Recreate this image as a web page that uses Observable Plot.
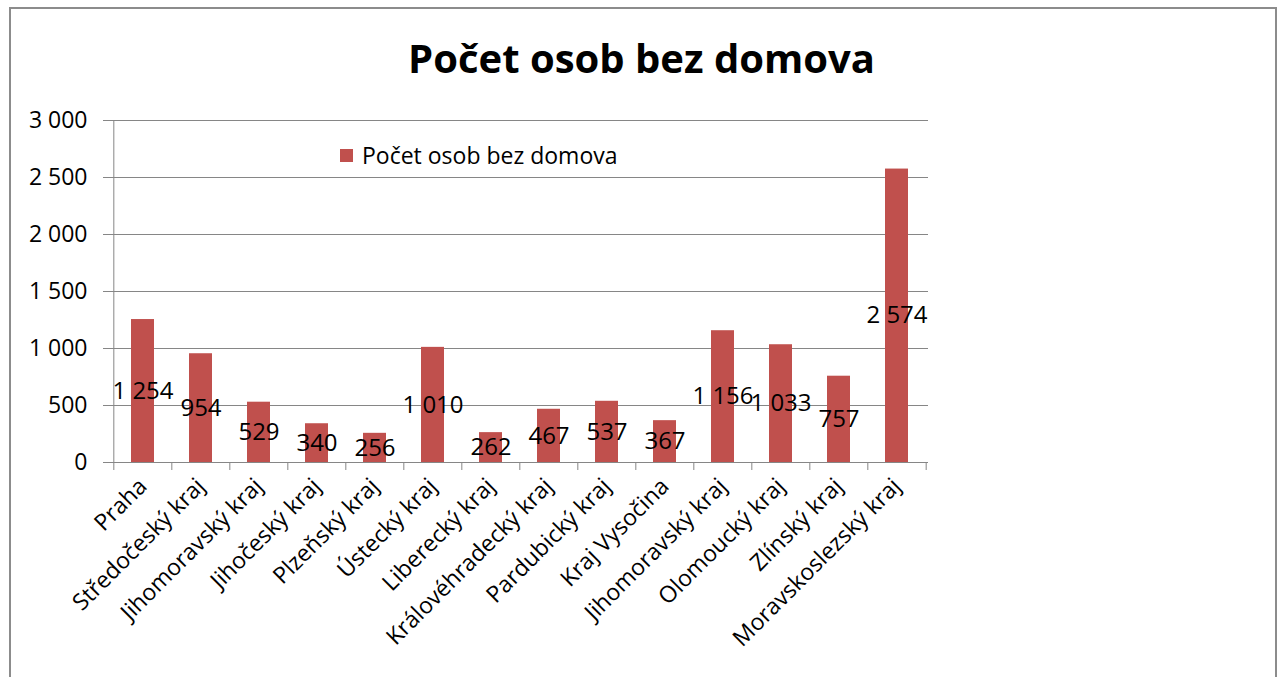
<!DOCTYPE html>
<html>
<head>
<meta charset="utf-8">
<script src="https://cdn.jsdelivr.net/npm/d3@7"></script>
<script src="https://cdn.jsdelivr.net/npm/@observablehq/plot@0.6"></script>
<style>
  html, body { margin: 0; padding: 0; background: #fff; overflow: hidden; }
  #wrap { position: relative; width: 1283px; height: 677px; overflow: hidden; font-family: "Open Sans", sans-serif; }
  #frame { position: absolute; left: 9px; top: 7px; width: 1268px; height: 720px; border: 2px solid #8c8c8c; box-sizing: border-box; }
  #title { position: absolute; left: 0; top: 30px; width: 1283px; text-align: center; font-weight: bold; font-size: 40px; line-height: 56px; color: #000; }
  #legend { position: absolute; left: 340px; top: 139px; font-size: 23px; line-height: 32px; color: #000; display: flex; align-items: center; }
  #legend .sw { width: 13px; height: 13px; background: #C0504D; margin-right: 9px; }
  #chart { position: absolute; left: 0; top: 0; }
</style>
</head>
<body>
<div id="wrap">
  <div id="frame"></div>
  <div id="chart"></div>
  <div id="title"></div>
  <div id="legend"><div class="sw"></div><span id="legtext"></span></div>
</div>
<script>
const titleText = "Počet osob bez domova";
const seriesName = "Počet osob bez domova";
const categories = ["Praha", "Středočeský kraj", "Jihomoravský kraj", "Jihočeský kraj", "Plzeňský kraj", "Ústecký kraj", "Liberecký kraj", "Královéhradecký kraj", "Pardubický kraj", "Kraj Vysočina", "Jihomoravský kraj", "Olomoucký kraj", "Zlínský kraj", "Moravskoslezský kraj"];
const values = [1254, 954, 529, 340, 256, 1010, 262, 467, 537, 367, 1156, 1033, 757, 2574];
const yTicks = [0, 500, 1000, 1500, 2000, 2500, 3000];
const yTickLabels = ["0", "500", "1 000", "1 500", "2 000", "2 500", "3 000"];

document.getElementById("title").textContent = titleText;
document.getElementById("legtext").textContent = seriesName;

const W = 1283, H = 677, ML = 111, MR = 355, MT = 120, MB = 215;
const step = (W - ML - MR) / categories.length;
const data = categories.map((c, i) => ({i, name: c, value: values[i]}));
const fmt = d3.formatLocale({thousands: " ", grouping: [3], decimal: ",", currency: ["", ""]}).format(",");
const gray = "#868686";

const chart = Plot.plot({
  width: W, height: H,
  marginLeft: ML, marginRight: MR, marginTop: MT, marginBottom: MB,
  style: {fontFamily: "Open Sans", fontSize: "20px", color: "#000", background: "transparent", overflow: "visible"},
  x: {type: "band", domain: data.map(d => d.i), paddingInner: 0.6, paddingOuter: 0.3, axis: null},
  y: {domain: [0, 3000], axis: null},
  marks: [
    Plot.gridY(yTicks, {stroke: gray, strokeOpacity: 1}),
    Plot.axisY(yTicks, {label: null, tickSize: 8, tickPadding: 16, stroke: gray, fill: "#000", fontSize: 23, tickFormat: d => yTickLabels[yTicks.indexOf(d)]}),
    Plot.barY(data, {x: "i", y: "value", fill: "#C0504D"}),
    Plot.ruleX([0], {x: d => d, y1: 0, y2: 3000, dx: -step / 2, stroke: gray}),
    Plot.ruleY([0], {stroke: gray}),
    Plot.axisX({label: null, tickSize: 8, dx: -step / 2, stroke: gray, tickFormat: () => ""}),
    Plot.axisX([categories.length - 1], {label: null, tickSize: 8, dx: step / 2, stroke: gray, tickFormat: () => ""}),
    Plot.axisX({label: null, tickSize: 0, tickPadding: 20, tickRotate: -45, fill: "#000", fontSize: 23, tickFormat: i => categories[i]}),
    Plot.text(data, {x: "i", y: d => d.value / 2, text: d => fmt(d.value), fontSize: 24, fill: "#000"})
  ]
});
document.getElementById("chart").appendChild(chart);
</script>
</body>
</html>
